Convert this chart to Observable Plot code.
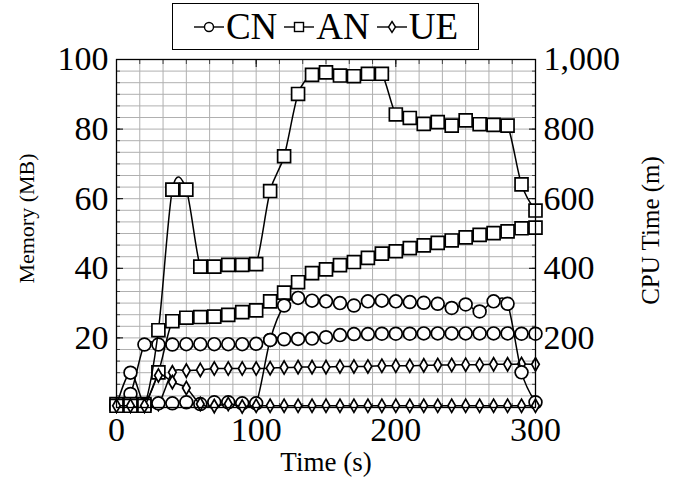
<!DOCTYPE html>
<html>
<head>
<meta charset="utf-8">
<script src="https://cdn.jsdelivr.net/npm/d3@7"></script>
<script src="https://cdn.jsdelivr.net/npm/@observablehq/plot@0.6"></script>
<style>
  body { margin: 0; background: #fff; }
  #wrap { position: relative; width: 678px; height: 481px; font-family: "Liberation Serif", "Times New Roman", serif; }
  #legend { position: absolute; left: 172px; top: 3px; width: 307px; height: 47px; border: 1px solid #000; box-sizing: border-box;
            display: flex; align-items: center; justify-content: center; font-size: 37px; color: #000; background: #fff; z-index: 2; }
  #legend .item { display: flex; align-items: center; margin: 0 3px; }
  #legend svg { margin-right: 1px; }
</style>
</head>
<body>
<div id="wrap"><div id="legend"></div></div>
<script>
// ---- data ----
const time = [0,10,20,30,40,50,60,70,80,90,100,110,120,130,140,150,160,170,180,190,200,210,220,230,240,250,260,270,280,290,300];

// Memory (MB)
const cnMemory = [0.5,3.9,18.1,18.1,18.1,18.2,18.2,18.2,18.2,18.2,18.3,19.4,19.6,19.7,19.8,20.2,20.8,21.1,21.1,21.2,21.2,21.2,21.3,21.3,21.3,21.3,21.3,21.3,21.3,21.2,21.2];
const anMemory = [1.0,1.0,1.0,10.1,24.8,25.8,26.0,26.1,26.6,27.4,27.9,30.5,33.0,36.0,38.6,39.7,40.9,41.8,43.0,44.2,44.9,45.8,46.6,47.3,48.0,48.9,49.6,50.1,50.6,51.5,51.7];
const ueMemory = [0.5,0.5,0.5,1.0,10.1,10.6,10.8,11.2,11.2,11.2,11.2,11.3,11.5,11.6,11.6,11.6,11.8,11.8,11.8,12.0,12.0,12.0,12.1,12.2,12.2,12.3,12.3,12.4,12.4,12.5,12.4];

// CPU time (m)
const cnCpu = [5,100,8,12,12,15,10,15,15,12,12,194,293,315,307,305,300,293,305,307,305,303,301,298,286,296,276,305,298,101,15];
const anCpu = [5,5,5,222,626,626,405,405,410,410,412,622,722,901,956,963,954,952,959,959,842,832,815,820,810,825,814,812,810,641,566];
const ueCpu = [5,5,5,92,73,56,10,4,10,3,5,5,5,5,5,5,5,5,5,5,5,5,5,5,5,5,5,5,5,5,5];

const seriesNames = ["CN", "AN", "UE"];
const seriesSymbols = ["circle", "square", "diamond"];
const xTicks = [0, 100, 200, 300];
const memoryTicks = [20, 40, 60, 80, 100];
const cpuTicks = [200, 400, 600, 800, 1000];
const xLabel = "Time (s)";
const memoryLabel = "Memory (MB)";
const cpuLabel = "CPU Time (m)";

// ---- build ----
const cpuFactor = 10; // 1000 m on the right axis = 100 MB on the left axis
const symbolR = { circle: 6.4, square: 7.3, diamond: 4 };

const series = [
  { name: "CN", symbol: "circle", values: cnMemory, cpu: false },
  { name: "AN", symbol: "square", values: anMemory, cpu: false },
  { name: "UE", symbol: "diamond", values: ueMemory, cpu: false },
  { name: "CN", symbol: "circle", values: cnCpu, cpu: true },
  { name: "AN", symbol: "square", values: anCpu, cpu: true },
  { name: "UE", symbol: "diamond", values: ueCpu, cpu: true }
];

const xMinor = d3.range(0, 19).map(k => k * 100 / 6);
const yMinor = d3.range(0, 31).map(k => k * 10 / 3);

const marks = [
  Plot.ruleX(xMinor, { stroke: "#b0b0b0", strokeWidth: 1 }),
  Plot.ruleY(yMinor, { stroke: "#b0b0b0", strokeWidth: 1 }),
  // inward minor ticks
  Plot.axisY({ ticks: yMinor, anchor: "left", tickSize: -4, tickFormat: () => "", label: null, stroke: "#444" }),
  Plot.axisY({ ticks: yMinor, anchor: "right", tickSize: -4, tickFormat: () => "", label: null, stroke: "#444" }),
  Plot.axisX({ ticks: xMinor, anchor: "bottom", tickSize: -4, tickFormat: () => "", label: null, stroke: "#444" }),
  Plot.axisX({ ticks: xMinor, anchor: "top", tickSize: -4, tickFormat: () => "", label: null, stroke: "#444" }),
  // inward major ticks
  Plot.axisY({ ticks: memoryTicks, anchor: "left", tickSize: -7, tickFormat: () => "", label: null, stroke: "#000" }),
  Plot.axisY({ ticks: cpuTicks.map(v => v / cpuFactor), anchor: "right", tickSize: -7, tickFormat: () => "", label: null, stroke: "#000" }),
  Plot.axisX({ ticks: xTicks, anchor: "bottom", tickSize: -7, tickFormat: () => "", label: null, stroke: "#000" }),
  Plot.axisX({ ticks: xTicks, anchor: "top", tickSize: -7, tickFormat: () => "", label: null, stroke: "#000" }),
  // tick labels
  Plot.axisY({ ticks: memoryTicks, anchor: "left", tickSize: 0, tickPadding: 8, fontSize: 34, label: null, tickFormat: d => String(d) }),
  Plot.axisY({ ticks: cpuTicks.map(v => v / cpuFactor), anchor: "right", tickSize: 0, tickPadding: 8, fontSize: 34, label: null,
               tickFormat: d => d3.format(",")(Math.round(d * cpuFactor)) }),
  Plot.axisX({ ticks: xTicks, anchor: "bottom", tickSize: 0, tickPadding: 9, fontSize: 34, label: null, tickFormat: d => String(d) }),
  // axis titles
  Plot.text([memoryLabel], { frameAnchor: "left", textAnchor: "middle", text: d => d, rotate: -90, dx: -90, dy: -15, fontSize: 22 }),
  Plot.text([cpuLabel], { frameAnchor: "right", textAnchor: "middle", text: d => d, rotate: -90, dx: 115, dy: -3, fontSize: 25 }),
  Plot.text([xLabel], { frameAnchor: "bottom", textAnchor: "middle", text: d => d, dy: 63, fontSize: 27 }),
];

for (const s of series) {
  const rows = s.values.map((v, i) => ({ t: time[i], y: s.cpu ? v / cpuFactor : v }));
  marks.push(Plot.line(rows, { x: "t", y: "y", curve: "cardinal", tension: 0.084, stroke: "#000", strokeWidth: 1.5, clip: true }));
  marks.push(Plot.dot(rows, { x: "t", y: "y", symbol: () => s.symbol, r: symbolR[s.symbol], fill: "#fff", stroke: "#000", strokeWidth: 1.7 }));
}
marks.push(Plot.frame({ stroke: "#000", strokeWidth: 1.3 }));

const chart = Plot.plot({
  width: 678,
  height: 481,
  marginLeft: 116,
  marginRight: 143,
  marginTop: 59,
  marginBottom: 74,
  x: { domain: [0, 300], axis: null },
  y: { domain: [0, 100], axis: null },
  symbol: { type: "identity" },
  style: { fontFamily: "'Liberation Serif', 'Times New Roman', serif", color: "#000", background: "#fff", overflow: "visible" },
  marks
});
document.getElementById("wrap").appendChild(chart);

// legend
const legend = document.getElementById("legend");
seriesNames.forEach((name, i) => {
  const item = document.createElement("span");
  item.className = "item";
  const sym = seriesSymbols[i];
  let shape = "";
  if (sym === "circle") shape = '<circle cx="16" cy="12" r="4.5" fill="#fff" stroke="#000" stroke-width="1.4"/>';
  if (sym === "square") shape = '<rect x="11.5" y="7.5" width="9" height="9" fill="#fff" stroke="#000" stroke-width="1.4"/>';
  if (sym === "diamond") shape = '<path d="M16,6.5L19.5,12L16,17.5L12.5,12Z" fill="#fff" stroke="#000" stroke-width="1.4"/>';
  item.innerHTML = '<svg width="32" height="24" viewBox="0 0 32 24"><line x1="1" y1="12" x2="31" y2="12" stroke="#000" stroke-width="1.4"/>' + shape + '</svg><span>' + name + '</span>';
  legend.appendChild(item);
});
</script>
</body>
</html>
